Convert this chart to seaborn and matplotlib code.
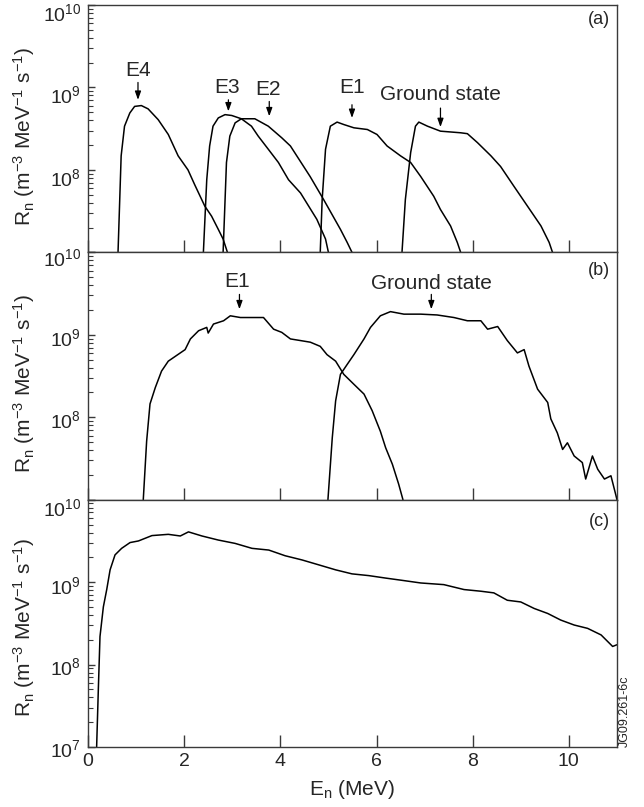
import numpy as np
import pandas as pd
import matplotlib
matplotlib.use("Agg")
import matplotlib.pyplot as plt
import matplotlib.transforms as mtrans
from matplotlib.ticker import LogLocator, NullFormatter
import seaborn as sns

sns.set_style("ticks")
plt.rcParams['font.family'] = ['Liberation Sans', 'DejaVu Sans']
plt.rcParams['mathtext.fontset'] = 'custom'
plt.rcParams['mathtext.rm'] = 'Liberation Sans'
plt.rcParams['mathtext.it'] = 'Liberation Sans:italic'
plt.rcParams['mathtext.bf'] = 'Liberation Sans:bold'

# ---- panel (a): separate excited states ----
a_e4_x = [0.625, 0.69, 0.76, 0.87, 0.97, 1.11, 1.25, 1.46, 1.67, 1.875, 2.08, 2.22, 2.43, 2.57, 2.71, 2.81, 2.90]
a_e4_y = [1e7, 1.48e8, 3.39e8, 4.9e8, 5.89e8, 6.03e8, 5.5e8, 4.07e8, 2.69e8, 1.48e8, 1.0e8, 6.6e7, 3.63e7, 2.75e7, 1.9e7, 1.45e7, 1e7]

a_e3_x = [2.40, 2.47, 2.53, 2.60, 2.71, 2.85, 2.99, 3.19, 3.40, 3.54, 3.75, 3.96, 4.17, 4.42, 4.76, 4.94, 5.0]
a_e3_y = [1e7, 7.6e7, 1.95e8, 3.39e8, 4.27e8, 4.68e8, 4.57e8, 4.17e8, 3.39e8, 2.57e8, 1.78e8, 1.23e8, 7.6e7, 5.25e7, 2.51e7, 1.45e7, 1e7]

a_e2_x = [2.81, 2.88, 2.95, 3.06, 3.19, 3.47, 3.75, 4.03, 4.21, 4.62, 4.90, 5.25, 5.39, 5.49]
a_e2_y = [1e7, 1.23e8, 2.57e8, 3.72e8, 4.17e8, 4.17e8, 3.39e8, 2.45e8, 1.95e8, 8.3e7, 4.37e7, 1.9e7, 1.32e7, 1e7]

a_e1_x = [4.83, 4.87, 4.94, 5.04, 5.18, 5.32, 5.53, 5.81, 6.01, 6.22, 6.50, 6.71, 6.92, 7.19, 7.33, 7.54, 7.68, 7.75]
a_e1_y = [1e7, 4.37e7, 1.78e8, 3.39e8, 3.8e8, 3.55e8, 3.24e8, 3.09e8, 2.69e8, 1.95e8, 1.48e8, 1.23e8, 8.3e7, 4.79e7, 3.31e7, 2.09e7, 1.32e7, 1e7]

a_gs_x = [6.53, 6.60, 6.71, 6.81, 6.88, 7.06, 7.33, 7.75, 7.89, 8.10, 8.38, 8.58, 8.86, 9.14, 9.42, 9.59, 9.66]
a_gs_y = [1e7, 4.37e7, 1.62e8, 3.39e8, 3.8e8, 3.39e8, 2.95e8, 2.82e8, 2.75e8, 2.14e8, 1.48e8, 1.1e8, 6.3e7, 3.63e7, 2.09e7, 1.32e7, 1e7]

# ---- panel (b) ----
b_e1_x = [1.15, 1.22, 1.29, 1.40, 1.53, 1.67, 1.92, 2.02, 2.13, 2.30, 2.47, 2.50, 2.61, 2.82, 2.96, 3.17, 3.375,
          3.65, 3.86, 4.03, 4.21, 4.42, 4.625, 4.83, 4.97, 5.15, 5.32, 5.53, 5.74, 5.91, 6.08, 6.19, 6.33, 6.46, 6.55]
b_e1_y = [1e7, 5.13e7, 1.45e8, 2.29e8, 3.63e8, 4.79e8, 6.03e8, 6.61e8, 8.91e8, 1.12e9, 1.23e9, 1.05e9, 1.35e9,
          1.48e9, 1.7e9, 1.62e9, 1.62e9, 1.62e9, 1.17e9, 1.07e9, 8.91e8, 8.51e8, 8.13e8, 7.24e8, 5.75e8, 4.79e8,
          3.31e8, 2.51e8, 1.91e8, 1.2e8, 6.76e7, 4.27e7, 2.69e7, 1.55e7, 1e7]

b_gs_x = [4.99, 5.08, 5.15, 5.25, 5.39, 5.53, 5.74, 5.875, 6.08, 6.29, 6.57, 6.92, 7.26, 7.61, 7.89, 8.17, 8.31,
          8.52, 8.72, 8.93, 9.07, 9.17, 9.35, 9.56, 9.625, 9.76, 9.87, 9.97, 10.11, 10.28, 10.35, 10.49, 10.60,
          10.74, 10.875, 10.98, 11.0]
b_gs_y = [1e7, 5.62e7, 1.58e8, 3.31e8, 4.37e8, 5.75e8, 8.91e8, 1.23e9, 1.7e9, 1.91e9, 1.78e9, 1.78e9, 1.74e9,
          1.62e9, 1.48e9, 1.48e9, 1.17e9, 1.26e9, 8.51e8, 6.03e8, 6.61e8, 4.17e8, 2.19e8, 1.51e8, 9.55e7, 6.46e7,
          4.07e7, 4.9e7, 3.39e7, 2.82e7, 1.78e7, 3.39e7, 2.34e7, 1.78e7, 1.95e7, 1.12e7, 1e7]

# ---- panel (c): total ----
c_x = [0.18, 0.215, 0.25, 0.32, 0.39, 0.46, 0.5625, 0.70, 0.875, 1.05, 1.33, 1.67, 1.92, 2.09, 2.37, 2.71, 3.06,
       3.41, 3.76, 4.10, 4.45, 4.80, 5.15, 5.49, 5.84, 6.19, 6.54, 6.92, 7.40, 7.82, 8.17, 8.44, 8.72, 9.0, 9.28,
       9.56, 9.83, 10.11, 10.39, 10.67, 10.91, 11.0]
c_y = [1e7, 4.9e7, 2.19e8, 5.01e8, 8.13e8, 1.41e9, 2.14e9, 2.57e9, 3.02e9, 3.16e9, 3.67e9, 3.8e9, 3.63e9, 4.07e9,
       3.63e9, 3.24e9, 2.95e9, 2.57e9, 2.45e9, 2.09e9, 1.86e9, 1.62e9, 1.41e9, 1.26e9, 1.2e9, 1.12e9, 1.05e9,
       9.77e8, 9.33e8, 8.13e8, 7.76e8, 7.41e8, 6.03e8, 5.75e8, 4.79e8, 4.17e8, 3.47e8, 3.02e8, 2.75e8, 2.29e8,
       1.66e8, 1.74e8]

panels = [
    [("E4", a_e4_x, a_e4_y), ("E3", a_e3_x, a_e3_y), ("E2", a_e2_x, a_e2_y),
     ("E1", a_e1_x, a_e1_y), ("Ground state", a_gs_x, a_gs_y)],
    [("E1", b_e1_x, b_e1_y), ("Ground state", b_gs_x, b_gs_y)],
    [("Total", c_x, c_y)],
]

# label, text x, text y, arrow x, arrow tail, arrow tip
arrows = [
    [("E4", 1.04, 1.62e9, 1.04, 1.15e9, 7.08e8),
     ("E3", 2.89, 1.0e9, 2.92, 7.08e8, 5.13e8),
     ("E2", 3.75, 9.33e8, 3.77, 6.76e8, 4.47e8),
     ("E1", 5.49, 1.0e9, 5.49, 6.17e8, 4.27e8),
     ("Ground state", 7.33, 8.13e8, 7.33, 5.62e8, 3.31e8)],
    [("E1", 3.11, 4.47e9, 3.15, 3.09e9, 2.04e9),
     ("Ground state", 7.15, 4.17e9, 7.14, 3.09e9, 2.04e9)],
    [],
]
tags = ["(a)", "(b)", "(c)"]
ylab_y = [0.47, 0.47, 0.485]
# downward nudge (px) of the y tick labels 1e7..1e10, per panel
label_drop = [[0, 7, 7, 7], [0, 2, 2, 5], [1, 1.5, 3, 7]]

spine_col = "#3a3a3a"
fig = plt.figure(figsize=(6.44, 8.07), dpi=100)
axes = fig.subplots(3, 1, sharex=True)
fig.subplots_adjust(left=0.1366, right=0.958, top=0.9938, bottom=0.0743, hspace=0)

for i, ax in enumerate(axes):
    for name, xs, ys in panels[i]:
        df = pd.DataFrame({"E": xs, "R": ys})
        sns.lineplot(data=df, x="E", y="R", ax=ax, color="black", lw=1.1,
                     sort=False, estimator=None)
    ax.set_yscale("log")
    ax.set_ylim(1e7, 1e10)
    ax.set_xlim(0, 11)
    ax.set_yticks([1e7, 1e8, 1e9, 1e10])
    if i < 2:
        ax.set_yticklabels(["", r"$10^{8}$", r"$10^{9}$", r"$10^{10}$"])
    else:
        ax.set_yticklabels([r"$10^{7}$", r"$10^{8}$", r"$10^{9}$", r"$10^{10}$"])
    ax.yaxis.set_minor_locator(LogLocator(base=10, subs=np.arange(2, 10)))
    ax.yaxis.set_minor_formatter(NullFormatter())
    ax.set_xticks([0, 2, 4, 6, 8, 10])
    ax.tick_params(axis="y", which="major", direction="in", length=5, width=1, color=spine_col,
                   labelsize=14, pad=5)
    ax.tick_params(axis="y", which="minor", direction="in", length=3.5, width=0.8, color=spine_col)
    ax.tick_params(axis="x", which="major", direction="in", length=9, width=1, color=spine_col,
                   labelsize=14, pad=4)
    for sp in ax.spines.values():
        sp.set_visible(True)
        sp.set_color(spine_col)
        sp.set_linewidth(1)
    ax.set_ylabel(r"R$_\mathregular{n}$ (m$^{-3}$ MeV$^{-1}$ s$^{-1}$)", fontsize=15)
    ax.yaxis.set_label_coords(-0.0964, ylab_y[i])
    ax.set_xlabel("")
    ax.text(0.987, 0.94 - 0.015 * i, tags[i], transform=ax.transAxes, ha="right", va="center", fontsize=13)

    for lab, tx, ty, axx, tail, tip in arrows[i]:
        ax.text(tx, ty, lab, ha="center", va="center", fontsize=15)
        ax.annotate("", xy=(axx, tip), xytext=(axx, tail),
                    arrowprops=dict(arrowstyle="-|>,head_length=0.5,head_width=0.18",
                                    color="black", lw=0.9, shrinkA=0, shrinkB=0))

axes[2].set_xlabel(r"E$_\mathregular{n}$ (MeV)", fontsize=15, labelpad=6)

fig.text(0.971, 0.0743, "JG09.261-6c", rotation=90, ha="center", va="bottom", fontsize=9)

# nudge y tick labels (after tick_params, which resets transforms)
for i, ax in enumerate(axes):
    for tk, drop in zip(ax.yaxis.get_major_ticks(), label_drop[i]):
        shift = mtrans.ScaledTranslation(0, -drop / 100, fig.dpi_scale_trans)
        tk.label1.set_transform(tk.label1.get_transform() + shift)

fig.savefig("out.png", dpi=100)
